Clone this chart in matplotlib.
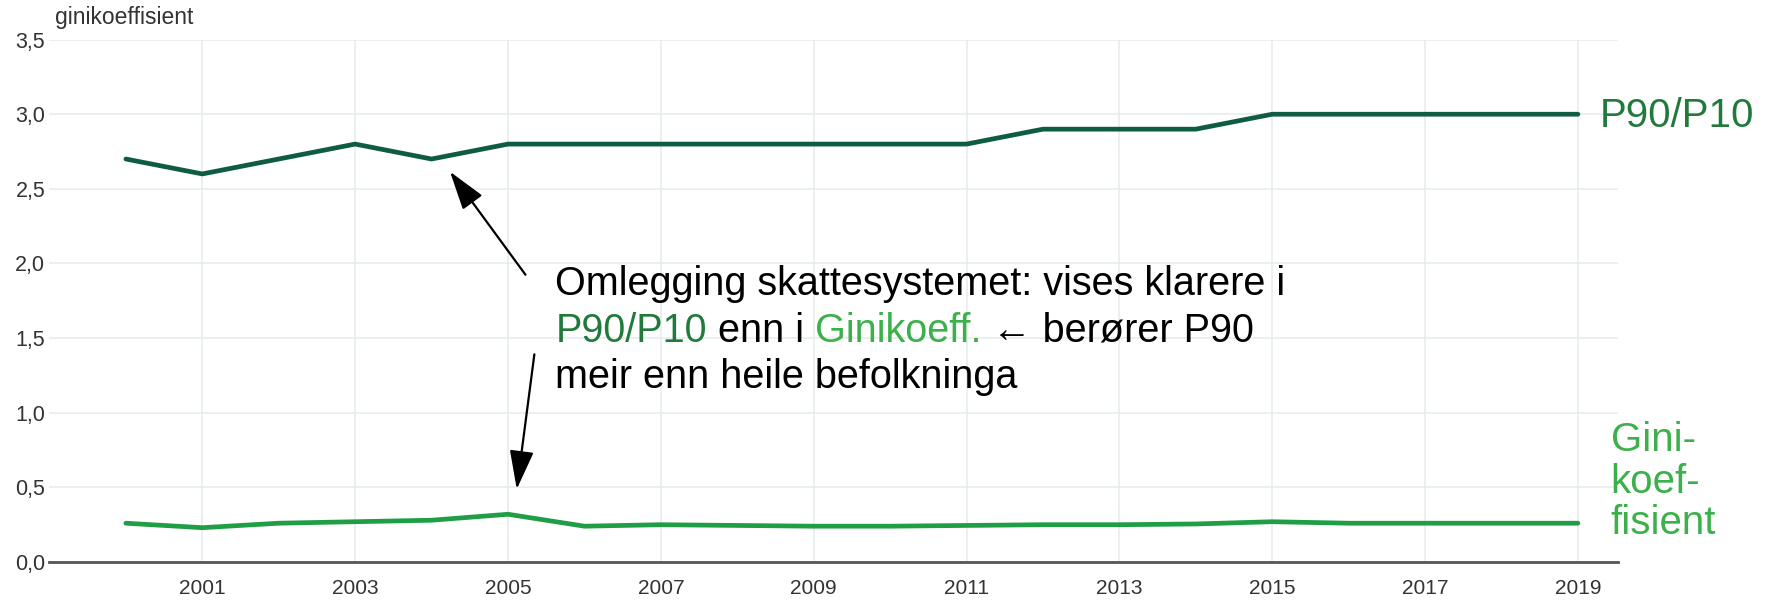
import matplotlib.pyplot as plt
from matplotlib.ticker import FuncFormatter

plt.rcParams['font.family'] = ['Liberation Sans', 'DejaVu Sans']

years = list(range(2000, 2020))
p90p10 = [2.7, 2.6, 2.7, 2.8, 2.7, 2.8, 2.8, 2.8, 2.8, 2.8,
          2.8, 2.8, 2.9, 2.9, 2.9, 3.0, 3.0, 3.0, 3.0, 3.0]
gini = [0.26, 0.23, 0.26, 0.27, 0.28, 0.32, 0.24, 0.25, 0.245, 0.24,
        0.24, 0.245, 0.25, 0.25, 0.255, 0.27, 0.26, 0.26, 0.26, 0.26]
yticks = [0.0, 0.5, 1.0, 1.5, 2.0, 2.5, 3.0, 3.5]
xticks = list(range(2001, 2020, 2))

DARK = "#0f5c44"
LIGHT = "#1f9e45"
DARK_TXT = "#217a3c"
LIGHT_TXT = "#3cb04a"

fig = plt.figure(figsize=(17.66, 6.0), dpi=100)
ax = fig.add_axes([0.028, 0.0633, 0.888, 0.8707])

ax.plot(years, p90p10, color=DARK, lw=3.4, solid_capstyle='round', zorder=3)
ax.plot(years, gini, color=LIGHT, lw=3.4, solid_capstyle='round', zorder=3)

ax.set_xlim(1999.0, 2019.52)
ax.set_ylim(0, 3.5)
ax.set_yticks(yticks)
ax.set_xticks(xticks)
ax.yaxis.set_major_formatter(FuncFormatter(lambda v, p: f"{v:.1f}".replace('.', ',')))
ax.grid(True, color="#e6ecec", lw=1.2, zorder=0)
for s in ['top', 'right', 'left']:
    ax.spines[s].set_visible(False)
ax.spines['bottom'].set_color("#555555")
ax.spines['bottom'].set_linewidth(2)
ax.tick_params(axis='both', length=0, labelcolor="#333333")
ax.tick_params(axis='x', pad=12, labelsize=15)
ax.tick_params(axis='y', pad=3, labelsize=15.5)

fig.text(0.031, 0.952, "ginikoeffisient", fontsize=16.5, color="#333333", va='bottom')

# series labels at the right end
fig.text(0.906, 0.806, "P90/P10", fontsize=29, color=DARK_TXT, va='center')
fig.text(0.912, 0.197, "Gini-\nkoef-\nfisient", fontsize=29, color=LIGHT_TXT,
         va='center', linespacing=1.12)

# arrows
arrow = dict(arrowstyle='-|>,head_length=2.4,head_width=0.75', color='black', lw=1.6)
ax.annotate("", xy=(2004.22, 2.63), xytext=(2005.25, 1.91), arrowprops=arrow)
ax.annotate("", xy=(2005.11, 0.47), xytext=(2005.35, 1.41), arrowprops=arrow)

# annotation text, three lines, second line in mixed colours
fs = 28.5
x0 = 2005.62
t1 = ax.text(x0, 1.86, "Omlegging skattesystemet: vises klarere i", fontsize=fs,
             color='black', va='center')
t2a = ax.text(x0, 1.55, "P90/P10", fontsize=fs, color=DARK_TXT, va='center')
t2b = ax.annotate(" enn i ", xy=(1, 0), xycoords=t2a, va='bottom', fontsize=fs, color='black')
t2c = ax.annotate("Ginikoeff.", xy=(1, 0), xycoords=t2b, va='bottom', fontsize=fs, color=LIGHT_TXT)
t2d = ax.annotate(" \u2190 berører P90", xy=(1, 0), xycoords=t2c, va='bottom', fontsize=fs,
                  color='black')
t3 = ax.text(x0, 1.24, "meir enn heile befolkninga", fontsize=fs, color='black', va='center')

fig.savefig("out.png", dpi=100)
